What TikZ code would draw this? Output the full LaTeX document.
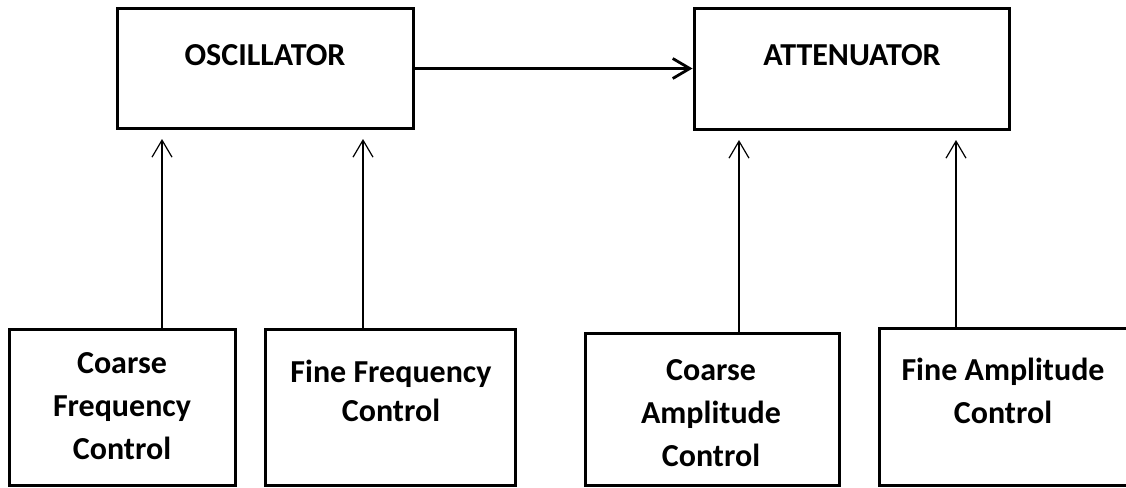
\documentclass[tikz,border=0pt]{standalone}
\usepackage{fontspec}
\setmainfont{Carlito}
\usetikzlibrary{arrows.meta}
\definecolor{LineColor}{HTML}{000000}
\definecolor{PaperColor}{HTML}{FFFFFF}
\tikzstyle{block}=[rectangle,
                   draw=LineColor,
                   line width=3pt,
                   inner sep=0pt, ]
\tikzstyle{caption}=[align=center,
                     anchor=base,
                     inner sep=0pt,
                     font=\bfseries\fontsize{32}{43}\selectfont, ]
\tikzstyle{signal}=[line width=2.8pt, draw=LineColor,
                    -{Straight Barb[length=17pt, width=20pt]}]
\tikzstyle{ctrl}=[line width=1.2pt, draw=LineColor,
                  -{Straight Barb[length=17pt, width=20pt]}]

\begin{document}
\begin{tikzpicture}[x=1pt, y=-1pt]
    \useasboundingbox[fill=PaperColor] (0, 0) rectangle (1126, 487);
    % ---------------------------------------------------------------------------------------------------------
    %  Bovenste rij
    \node at (265, 68.5) (osc) [block, minimum width=296pt, minimum height=119pt] {};
    \node at (851.5, 69) (att) [block, minimum width=315pt, minimum height=120pt] {};

    \node at (265, 65) (osc-text) [caption] {OSCILLATOR};
    \node at (852, 65) (att-text) [caption] {ATTENUATOR};

    \draw[signal] (osc.east) -- (osc.east -| att.west);

    % ---------------------------------------------------------------------------------------------------------
    %  Onderste rij (tekst: basislijn van de laatste regel)
    \node at (122, 407) (cfc) [block, minimum width=226pt, minimum height=156pt] {};
    \node at (390, 407) (ffc) [block, minimum width=250pt, minimum height=156pt] {};
    \node at (712, 409) (cac) [block, minimum width=254pt, minimum height=152pt] {};
    \node at (1003.5, 406.5) (fac) [block, minimum width=249pt, minimum height=157pt] {};

    \node at (122, 459) (cfc-text) [caption] {Coarse\\Frequency\\Control};
    \node at (391, 421) (ffc-text) [caption, font=\bfseries\fontsize{32}{39}\selectfont] {Fine Frequency\\Control};
    \node at (711, 466) (cac-text) [caption] {Coarse\\Amplitude\\Control};
    \node at (1003, 423) (fac-text) [caption] {Fine Amplitude\\Control};

    % ---------------------------------------------------------------------------------------------------------
    %  Regelingen
    \coordinate (cfc-tip) at (162, 139);
    \coordinate (ffc-tip) at (363, 139);
    \coordinate (cac-tip) at (739, 140);
    \coordinate (fac-tip) at (956, 140);

    \draw[ctrl] (cfc-tip |- cfc.north) -- (cfc-tip);
    \draw[ctrl] (ffc-tip |- ffc.north) -- (ffc-tip);
    \draw[ctrl] (cac-tip |- cac.north) -- (cac-tip);
    \draw[ctrl] (fac-tip |- fac.north) -- (fac-tip);
\end{tikzpicture}
\end{document}
